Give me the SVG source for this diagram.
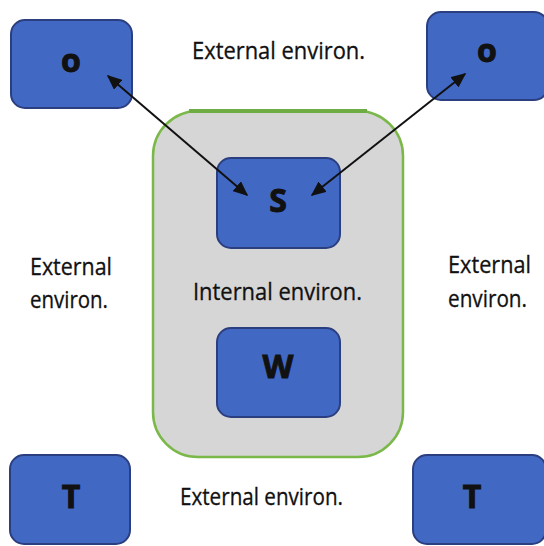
<svg xmlns="http://www.w3.org/2000/svg" width="544" height="546" viewBox="0 0 544 546">
  <style>
    .box { fill: #4169C4; stroke: #2B3E80; stroke-width: 2; }
    .lbl { font-family: "Open Sans", "Liberation Sans", sans-serif; font-weight: bold; font-size: 32px; fill: #111; stroke: #111; stroke-width: 1; text-anchor: middle; }
    .env { font-family: "Open Sans", "Liberation Sans", sans-serif; font-size: 23px; fill: #111; stroke: #111; stroke-width: 0.3; }
    .conn { stroke: #111; stroke-width: 2; fill: none; marker-start: url(#ah); marker-end: url(#ah); }
  </style>
  <defs>
    <marker id="ah" viewBox="0 0 10 10" refX="9" refY="5" markerWidth="15" markerHeight="13" orient="auto-start-reverse" markerUnits="userSpaceOnUse" preserveAspectRatio="none">
      <path d="M0,0 L10,5 L0,10 z" fill="#111"/>
    </marker>
  </defs>
  <rect width="544" height="546" fill="#ffffff"/>

  <g id="internal">
    <rect x="153" y="111" width="250" height="346" rx="45" fill="#D6D6D6" stroke="#7BB84A" stroke-width="2.5"/>
    <line x1="189" y1="111" x2="367" y2="111" stroke="#6EAD43" stroke-width="4"/>
    <text class="env" x="193" y="300" textLength="169" lengthAdjust="spacingAndGlyphs">Internal environ.</text>
  </g>

  <g id="ext-top"><text class="env" x="192" y="59" textLength="173" lengthAdjust="spacingAndGlyphs">External environ.</text></g>
  <g id="ext-bottom"><text class="env" x="180" y="505" textLength="163" lengthAdjust="spacingAndGlyphs">External environ.</text></g>
  <g id="ext-left">
    <text class="env" x="30" y="275" textLength="82" lengthAdjust="spacingAndGlyphs">External</text>
    <text class="env" x="30" y="308" textLength="78" lengthAdjust="spacingAndGlyphs">environ.</text>
  </g>
  <g id="ext-right">
    <text class="env" x="448" y="273" textLength="83" lengthAdjust="spacingAndGlyphs">External</text>
    <text class="env" x="448" y="307" textLength="79" lengthAdjust="spacingAndGlyphs">environ.</text>
  </g>

  <g id="o-left"><rect class="box" x="11" y="20" width="121" height="88" rx="14"/><text class="lbl" x="71" y="72">o</text></g>
  <g id="o-right"><rect class="box" x="427" y="12" width="121" height="88" rx="14"/><text class="lbl" x="487" y="62">o</text></g>
  <g id="s"><rect class="box" x="217" y="158" width="123" height="90" rx="14"/><text class="lbl" x="278" y="212">S</text></g>
  <g id="w"><rect class="box" x="217" y="328" width="123" height="89" rx="14"/><text class="lbl" x="278" y="378">W</text></g>
  <g id="t-left"><rect class="box" x="10" y="455" width="120" height="89" rx="14"/><text class="lbl" x="71" y="508">T</text></g>
  <g id="t-right"><rect class="box" x="413" y="455" width="133" height="89" rx="14"/><text class="lbl" x="472" y="508">T</text></g>

  <g id="connectors">
    <line class="conn" x1="108" y1="76" x2="247" y2="195"/>
    <line class="conn" x1="465" y1="74" x2="312" y2="195"/>
  </g>
</svg>
